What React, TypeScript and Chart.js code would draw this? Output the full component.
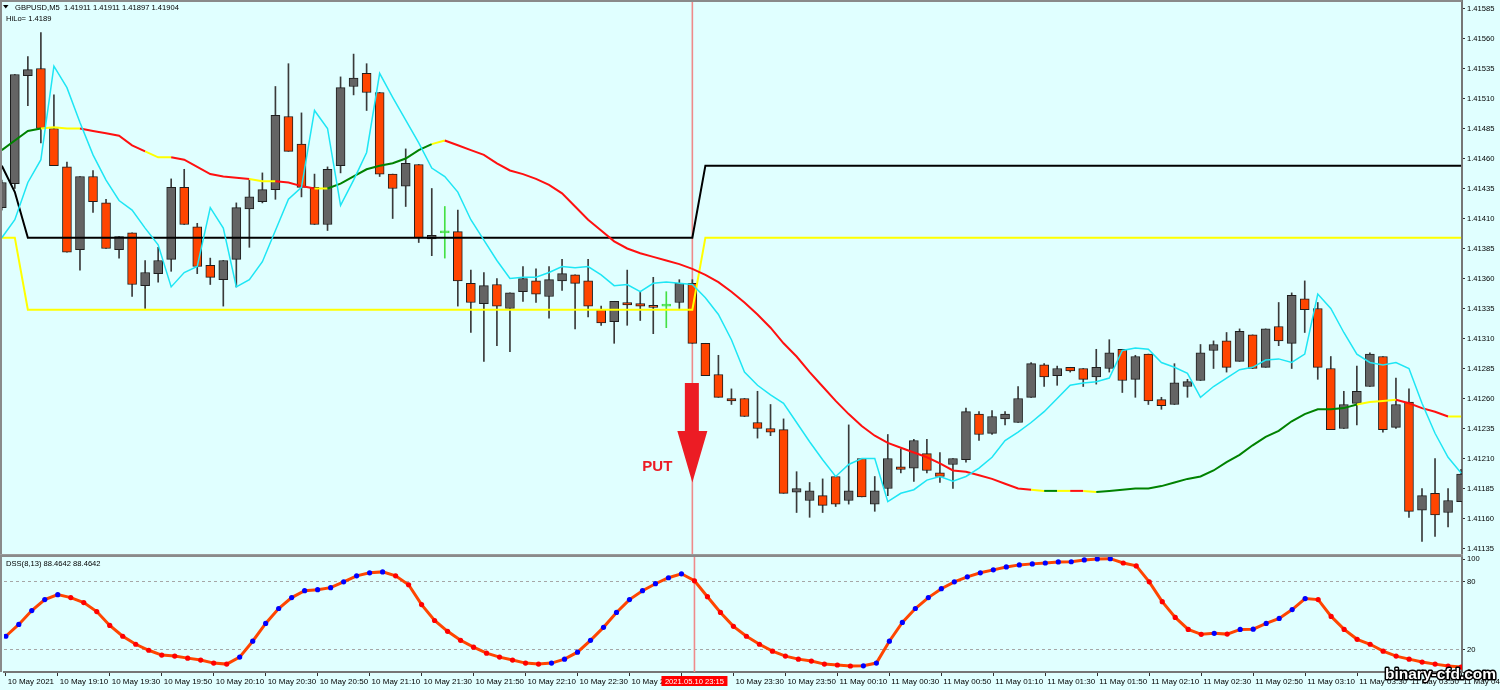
import React, { useEffect, useRef } from 'react';
import { Chart, registerables } from 'chart.js';

Chart.register(...registerables);

// ---------------- data (GBPUSD M5, bar 0 = 10 May 18:50) ----------------
const openPrices = [
  1.41419, 1.41439, 1.41529, 1.41535, 1.41485, 1.41453, 1.41384, 1.41445, 1.41423, 1.41384,
  1.41398, 1.41354, 1.41364, 1.41376, 1.41436, 1.41403, 1.41371, 1.41359, 1.41376, 1.41418,
  1.41424, 1.41434, 1.41495, 1.41472, 1.41436, 1.41405, 1.41454, 1.41520, 1.41531, 1.41515,
  1.41447, 1.41437, 1.41455, 1.41393, 1.41398, 1.41399, 1.41356, 1.41339, 1.41355, 1.41335,
  1.41349, 1.41358, 1.41345, 1.41358, 1.41363, 1.41358, 1.41334, 1.41324, 1.41340, 1.41339,
  1.41337, 1.41337, 1.41340, 1.41356, 1.41306, 1.41280, 1.41260, 1.41260, 1.41240, 1.41235,
  1.41234, 1.41182, 1.41175, 1.41179, 1.41195, 1.41175, 1.41210, 1.41172, 1.41185, 1.41203,
  1.41202, 1.41214, 1.41198, 1.41205, 1.41209, 1.41247, 1.41231, 1.41243, 1.41240, 1.41261,
  1.41288, 1.41279, 1.41286, 1.41285, 1.41278, 1.41285, 1.41301, 1.41276, 1.41297, 1.41259,
  1.41255, 1.41270, 1.41275, 1.41300, 1.41308, 1.41291, 1.41313, 1.41286, 1.41320, 1.41306,
  1.41343, 1.41335, 1.41285, 1.41235, 1.41256, 1.41270, 1.41295, 1.41236, 1.41257, 1.41167,
  1.41181, 1.41165, 1.41174,
];
const highPrices = [
  1.41442, 1.41530, 1.41545, 1.41565, 1.41513, 1.41457, 1.41445, 1.41450, 1.41426, 1.41395,
  1.41398, 1.41375, 1.41386, 1.41443, 1.41451, 1.41406, 1.41377, 1.41375, 1.41423, 1.41442,
  1.41448, 1.41520, 1.41539, 1.41498, 1.41447, 1.41453, 1.41528, 1.41547, 1.41539, 1.41515,
  1.41447, 1.41468, 1.41455, 1.41435, 1.41420, 1.41417, 1.41367, 1.41365, 1.41360, 1.41348,
  1.41370, 1.41368, 1.41370, 1.41376, 1.41363, 1.41376, 1.41337, 1.41341, 1.41367, 1.41349,
  1.41361, 1.41349, 1.41359, 1.41359, 1.41306, 1.41296, 1.41268, 1.41260, 1.41266, 1.41255,
  1.41243, 1.41199, 1.41190, 1.41193, 1.41195, 1.41238, 1.41210, 1.41195, 1.41230, 1.41218,
  1.41226, 1.41226, 1.41215, 1.41210, 1.41252, 1.41249, 1.41250, 1.41249, 1.41270, 1.41290,
  1.41289, 1.41287, 1.41286, 1.41285, 1.41301, 1.41309, 1.41301, 1.41296, 1.41297, 1.41261,
  1.41289, 1.41276, 1.41305, 1.41308, 1.41315, 1.41318, 1.41313, 1.41318, 1.41340, 1.41348,
  1.41358, 1.41340, 1.41295, 1.41266, 1.41287, 1.41298, 1.41295, 1.41277, 1.41268, 1.41185,
  1.41210, 1.41185, 1.41201,
];
const lowPrices = [
  1.41417, 1.41435, 1.41504, 1.41473, 1.41454, 1.41382, 1.41367, 1.41415, 1.41385, 1.41377,
  1.41345, 1.41335, 1.41357, 1.41366, 1.41405, 1.41364, 1.41355, 1.41337, 1.41353, 1.41386,
  1.41423, 1.41426, 1.41466, 1.41428, 1.41405, 1.41400, 1.41448, 1.41513, 1.41500, 1.41445,
  1.41410, 1.41420, 1.41390, 1.41379, 1.41377, 1.41337, 1.41315, 1.41291, 1.41304, 1.41299,
  1.41341, 1.41340, 1.41327, 1.41350, 1.41318, 1.41328, 1.41321, 1.41306, 1.41321, 1.41325,
  1.41314, 1.41319, 1.41335, 1.41306, 1.41279, 1.41261, 1.41255, 1.41245, 1.41227, 1.41229,
  1.41181, 1.41165, 1.41161, 1.41165, 1.41170, 1.41172, 1.41178, 1.41166, 1.41179, 1.41198,
  1.41191, 1.41198, 1.41190, 1.41185, 1.41207, 1.41225, 1.41230, 1.41238, 1.41240, 1.41261,
  1.41270, 1.41271, 1.41282, 1.41270, 1.41272, 1.41282, 1.41265, 1.41261, 1.41255, 1.41251,
  1.41255, 1.41261, 1.41275, 1.41285, 1.41282, 1.41291, 1.41285, 1.41286, 1.41304, 1.41285,
  1.41315, 1.41276, 1.41234, 1.41235, 1.41238, 1.41270, 1.41232, 1.41235, 1.41161, 1.41141,
  1.41145, 1.41153, 1.41174,
];
const closePrices = [
  1.41440, 1.41530, 1.41534, 1.41485, 1.41454, 1.41382, 1.41445, 1.41424, 1.41385, 1.41395,
  1.41355, 1.41365, 1.41375, 1.41436, 1.41405, 1.41370, 1.41361, 1.41375, 1.41419, 1.41428,
  1.41434, 1.41496, 1.41466, 1.41436, 1.41405, 1.41451, 1.41519, 1.41527, 1.41515, 1.41447,
  1.41435, 1.41456, 1.41394, 1.41396, 1.41398, 1.41358, 1.41340, 1.41354, 1.41337, 1.41348,
  1.41360, 1.41347, 1.41359, 1.41364, 1.41356, 1.41337, 1.41323, 1.41341, 1.41338, 1.41337,
  1.41336, 1.41337, 1.41356, 1.41306, 1.41279, 1.41261, 1.41258, 1.41245, 1.41235, 1.41232,
  1.41181, 1.41185, 1.41183, 1.41171, 1.41172, 1.41183, 1.41178, 1.41183, 1.41210, 1.41201,
  1.41225, 1.41200, 1.41195, 1.41210, 1.41249, 1.41230, 1.41245, 1.41247, 1.41260, 1.41289,
  1.41278, 1.41285, 1.41283, 1.41276, 1.41286, 1.41298, 1.41275, 1.41295, 1.41258, 1.41254,
  1.41273, 1.41274, 1.41298, 1.41305, 1.41286, 1.41316, 1.41285, 1.41318, 1.41308, 1.41346,
  1.41334, 1.41286, 1.41234, 1.41255, 1.41266, 1.41297, 1.41234, 1.41255, 1.41166, 1.41179,
  1.41163, 1.41175, 1.41197,
];
// fast (aqua) line
const fastLine = [
  1.41394, 1.41409, 1.41440, 1.41459, 1.41537, 1.41519, 1.41490, 1.41463, 1.41442, 1.41425,
  1.41417, 1.41402, 1.41388, 1.41353, 1.41365, 1.41370, 1.41419, 1.41402, 1.41353, 1.41359,
  1.41374, 1.41400, 1.41426, 1.41436, 1.41500, 1.41485, 1.41421, 1.41442, 1.41465, 1.41531,
  1.41511, 1.41492, 1.41473, 1.41452, 1.41445, 1.41432, 1.41409, 1.41392, 1.41375, 1.41360,
  1.41361, 1.41361, 1.41365, 1.41370, 1.41369, 1.41370, 1.41363, 1.41354, 1.41355, 1.41349,
  1.41356, 1.41357, 1.41356, 1.41355, 1.41344, 1.41330, 1.41309, 1.41282, 1.41271, 1.41263,
  1.41256, 1.41240, 1.41224, 1.41209, 1.41195, 1.41205, 1.41210, 1.41210, 1.41174, 1.41181,
  1.41184, 1.41192, 1.41195, 1.41191, 1.41195, 1.41202, 1.41211, 1.41225, 1.41232, 1.41240,
  1.41249, 1.41260, 1.41271, 1.41273, 1.41274, 1.41277, 1.41300, 1.41302, 1.41301, 1.41290,
  1.41286, 1.41281, 1.41261, 1.41270, 1.41277, 1.41284, 1.41286, 1.41292, 1.41293, 1.41290,
  1.41297, 1.41347, 1.41335, 1.41315, 1.41297, 1.41290, 1.41288, 1.41290, 1.41285, 1.41256,
  1.41231, 1.41211, 1.41198,
];
// slow coloured moving average
const slowMA = [
  1.41467, 1.41475, 1.41483, 1.41485, 1.41486, 1.41485, 1.41485, 1.41483, 1.41481, 1.41479,
  1.41471, 1.41466, 1.41461, 1.41461, 1.41459, 1.41453, 1.41447, 1.41445, 1.41444, 1.41443,
  1.41441, 1.41441, 1.41440, 1.41437, 1.41435, 1.41435, 1.41439, 1.41445, 1.41451, 1.41454,
  1.41456, 1.41460, 1.41467, 1.41472, 1.41475, 1.41471, 1.41467, 1.41463, 1.41456, 1.41450,
  1.41447, 1.41443, 1.41438, 1.41431, 1.41420, 1.41409, 1.41400, 1.41391, 1.41385, 1.41381,
  1.41378, 1.41375, 1.41372, 1.41368, 1.41363, 1.41357, 1.41349, 1.41340, 1.41330, 1.41319,
  1.41306, 1.41295, 1.41282, 1.41270, 1.41258, 1.41247, 1.41237, 1.41229, 1.41223, 1.41219,
  1.41215, 1.41211, 1.41206, 1.41200, 1.41199, 1.41196, 1.41193, 1.41189, 1.41185, 1.41184,
  1.41183, 1.41183, 1.41183, 1.41183, 1.41182, 1.41183, 1.41184, 1.41185, 1.41185, 1.41187,
  1.41190, 1.41193, 1.41195, 1.41200, 1.41207, 1.41213, 1.41221, 1.41228, 1.41233, 1.41241,
  1.41247, 1.41251, 1.41251, 1.41252, 1.41255, 1.41257, 1.41258, 1.41259, 1.41256, 1.41252,
  1.41249, 1.41245, 1.41245,
];
// trend state of each MA segment: g = up, y = flat, r = down
const maTrend = (
  'gggyyyrrrr' + 'ryyrrrrrry' + 'yrrryggggg' + 'gggyrrrrrr' + 'rrrrrrrrrr' +
  'rrrrrrrrrr' + 'rrrrrrrrrr' + 'rrrrrrrrry' + 'gyrygggggg' + 'gggggggggg' +
  'ggggyyyrrr' + 'ryy'
).split('');
// HiLo channel
const hiloUpper = [
  1.41454, 1.41432, 1.41394, 1.41394, 1.41394, 1.41394, 1.41394, 1.41394, 1.41394, 1.41394,
  1.41394, 1.41394, 1.41394, 1.41394, 1.41394, 1.41394, 1.41394, 1.41394, 1.41394, 1.41394,
  1.41394, 1.41394, 1.41394, 1.41394, 1.41394, 1.41394, 1.41394, 1.41394, 1.41394, 1.41394,
  1.41394, 1.41394, 1.41394, 1.41394, 1.41394, 1.41394, 1.41394, 1.41394, 1.41394, 1.41394,
  1.41394, 1.41394, 1.41394, 1.41394, 1.41394, 1.41394, 1.41394, 1.41394, 1.41394, 1.41394,
  1.41394, 1.41394, 1.41394, 1.41394, 1.41454, 1.41454, 1.41454, 1.41454, 1.41454, 1.41454,
  1.41454, 1.41454, 1.41454, 1.41454, 1.41454, 1.41454, 1.41454, 1.41454, 1.41454, 1.41454,
  1.41454, 1.41454, 1.41454, 1.41454, 1.41454, 1.41454, 1.41454, 1.41454, 1.41454, 1.41454,
  1.41454, 1.41454, 1.41454, 1.41454, 1.41454, 1.41454, 1.41454, 1.41454, 1.41454, 1.41454,
  1.41454, 1.41454, 1.41454, 1.41454, 1.41454, 1.41454, 1.41454, 1.41454, 1.41454, 1.41454,
  1.41454, 1.41454, 1.41454, 1.41454, 1.41454, 1.41454, 1.41454, 1.41454, 1.41454, 1.41454,
  1.41454, 1.41454, 1.41454,
];
const hiloLower = [
  1.41394, 1.41394, 1.41334, 1.41334, 1.41334, 1.41334, 1.41334, 1.41334, 1.41334, 1.41334,
  1.41334, 1.41334, 1.41334, 1.41334, 1.41334, 1.41334, 1.41334, 1.41334, 1.41334, 1.41334,
  1.41334, 1.41334, 1.41334, 1.41334, 1.41334, 1.41334, 1.41334, 1.41334, 1.41334, 1.41334,
  1.41334, 1.41334, 1.41334, 1.41334, 1.41334, 1.41334, 1.41334, 1.41334, 1.41334, 1.41334,
  1.41334, 1.41334, 1.41334, 1.41334, 1.41334, 1.41334, 1.41334, 1.41334, 1.41334, 1.41334,
  1.41334, 1.41334, 1.41334, 1.41334, 1.41394, 1.41394, 1.41394, 1.41394, 1.41394, 1.41394,
  1.41394, 1.41394, 1.41394, 1.41394, 1.41394, 1.41394, 1.41394, 1.41394, 1.41394, 1.41394,
  1.41394, 1.41394, 1.41394, 1.41394, 1.41394, 1.41394, 1.41394, 1.41394, 1.41394, 1.41394,
  1.41394, 1.41394, 1.41394, 1.41394, 1.41394, 1.41394, 1.41394, 1.41394, 1.41394, 1.41394,
  1.41394, 1.41394, 1.41394, 1.41394, 1.41394, 1.41394, 1.41394, 1.41394, 1.41394, 1.41394,
  1.41394, 1.41394, 1.41394, 1.41394, 1.41394, 1.41394, 1.41394, 1.41394, 1.41394, 1.41394,
  1.41394, 1.41394, 1.41394,
];
// DSS(8,13) oscillator
const dssValues = [
  31.7, 42.2, 54.5, 64.2, 68.6, 66.0, 61.6, 53.6, 41.3, 31.7,
  24.6, 19.3, 15.0, 14.1, 12.3, 10.6, 7.9, 7.0, 13.2, 27.3,
  43.1, 56.3, 66.0, 72.1, 73.0, 74.8, 80.0, 85.3, 88.0, 88.8,
  85.3, 77.4, 59.8, 45.7, 36.1, 28.1, 22.0, 16.7, 13.2, 10.6,
  7.9, 7.0, 7.9, 11.4, 17.6, 28.1, 39.6, 52.8, 64.2, 72.1,
  78.3, 83.6, 87.1, 80.9, 66.8, 52.8, 40.5, 31.7, 24.6, 18.5,
  14.1, 11.4, 9.7, 7.0, 6.2, 5.3, 5.5, 7.9, 27.3, 44.0,
  56.3, 66.0, 73.9, 80.0, 84.4, 88.0, 90.6, 93.2, 95.0, 95.9,
  96.7, 97.6, 97.8, 99.4, 100.3, 100.5, 96.7, 94.1, 80.0, 62.4,
  48.4, 37.8, 33.4, 34.3, 33.6, 37.8, 38.0, 43.1, 47.5, 55.4,
  65.1, 64.2, 49.3, 37.8, 29.0, 24.6, 18.5, 14.1, 11.4, 8.8,
  7.0, 5.3, 4.4,
];
const priceTickLabels = [
  '1.41135', '1.41160', '1.41185', '1.41210', '1.41235', '1.41260', '1.41285',
  '1.41310', '1.41335', '1.41360', '1.41385', '1.41410', '1.41435', '1.41460',
  '1.41485', '1.41510', '1.41535', '1.41560', '1.41585',
];
const dssTickValues = [0, 20, 80, 100];
const dssLevels = [20, 80];
const timeTickBars = [0, 4, 8, 12, 16, 20, 24, 28, 32, 36, 40, 44, 48, 52, 56, 60, 64, 68, 72, 76, 80, 84, 88, 92, 96, 100, 104, 108, 112];
const timeTickLabels = [
  '10 May 2021', '10 May 19:10', '10 May 19:30', '10 May 19:50', '10 May 20:10', '10 May 20:30',
  '10 May 20:50', '10 May 21:10', '10 May 21:30', '10 May 21:50', '10 May 22:10', '10 May 22:30',
  '10 May 22:50', '', '10 May 23:30', '10 May 23:50', '11 May 00:10', '11 May 00:30',
  '11 May 00:50', '11 May 01:10', '11 May 01:30', '11 May 01:50', '11 May 02:10', '11 May 02:30',
  '11 May 02:50', '11 May 03:10', '11 May 03:30', '11 May 03:50', '11 May 04:10',
];
// signal annotation
const markerBar = 53;
const markerLabel = '2021.05.10 23:15';
const arrowTopPrice = 1.41273;
const arrowNeckPrice = 1.41233;
const arrowTipPrice = 1.4119;
const putLabelPrice = 1.41203;
const headerText = 'GBPUSD,M5  1.41911 1.41911 1.41897 1.41904';
const hiloText = 'HiLo= 1.4189';
const dssText = 'DSS(8,13) 88.4642 88.4642';
const watermark = 'binary-cfd.com';

// ---------------- layout / style ----------------
const W = 1500;
const H = 690;
const MAIN_H = 555;
const SUB_TOP = 545;
const SUB_H = H - SUB_TOP;
const SUB_PAD_TOP = 12;
const AXIS_W = 38;
const XAXIS_H = 18;
const X_MIN = -0.138;
const X_MAX = 112.07;
const PRICE_MIN = 1.4112958;
const PRICE_MAX = 1.4159208;
const BG = '#e0ffff';
const FAMILY = "'Liberation Sans', Arial, sans-serif";
const TXT = '#000000';
const FRAME = '#8a8a8a';
const AXIS_LINE = '#767676';
const BULL = '#646464';
const BEAR = '#ff4500';
const DOJI = '#44e044';
const WICK = '#3a3a3a';
const BODY_EDGE = '#1e1e1e';
const AQUA = '#1ee6f4';
const MA_COL: Record<string, string> = { g: '#008200', y: '#ffff00', r: '#ff1010' };
const MARKER = '#ef8a8a';
const ARROW = '#ec1c24';

function bgPlugin(fromY: number) {
  return {
    id: 'bg' + fromY,
    beforeDraw(chart: any) {
      const { ctx } = chart;
      ctx.save();
      ctx.fillStyle = BG;
      ctx.fillRect(0, fromY, chart.width, chart.height - fromY);
      ctx.restore();
    },
  };
}

function markerLine(chart: any) {
  const { ctx, chartArea } = chart;
  const x = chart.scales.x.getPixelForValue(markerBar);
  ctx.save();
  ctx.strokeStyle = MARKER;
  ctx.lineWidth = 1.6;
  ctx.beginPath();
  ctx.moveTo(x, chartArea.top);
  ctx.lineTo(x, chartArea.bottom);
  ctx.stroke();
  ctx.restore();
}

function buildMain(): any {
  const idx = openPrices.map((_, i) => i);
  const doji = idx.map((i) => openPrices[i] === closePrices[i]);
  const bodyFill = idx.map((i) => (doji[i] ? DOJI : closePrices[i] > openPrices[i] ? BULL : BEAR));
  const bodyEdge = idx.map((i) => (doji[i] ? DOJI : BODY_EDGE));
  const wickFill = idx.map((i) => (doji[i] ? DOJI : WICK));

  const decor = {
    id: 'mainDecor',
    beforeDatasetsDraw(chart: any) {
      markerLine(chart);
    },
    afterDatasetsDraw(chart: any) {
      const { ctx } = chart;
      const xs = chart.scales.x;
      const ys = chart.scales.y;
      const cx = xs.getPixelForValue(markerBar);
      const yTop = ys.getPixelForValue(arrowTopPrice);
      const yNeck = ys.getPixelForValue(arrowNeckPrice);
      const yTip = ys.getPixelForValue(arrowTipPrice);
      ctx.save();
      ctx.fillStyle = ARROW;
      ctx.beginPath();
      ctx.moveTo(cx - 7.5, yTop);
      ctx.lineTo(cx + 6.5, yTop);
      ctx.lineTo(cx + 6.5, yNeck);
      ctx.lineTo(cx + 15, yNeck);
      ctx.lineTo(cx, yTip);
      ctx.lineTo(cx - 15, yNeck);
      ctx.lineTo(cx - 7.5, yNeck);
      ctx.closePath();
      ctx.fill();
      ctx.font = `bold 15px ${FAMILY}`;
      ctx.textAlign = 'right';
      ctx.textBaseline = 'middle';
      ctx.fillText('PUT', cx - 20, ys.getPixelForValue(putLabelPrice));
      ctx.restore();
    },
    afterDraw(chart: any) {
      const { ctx, chartArea } = chart;
      ctx.save();
      ctx.fillStyle = FRAME;
      ctx.fillRect(0, 0, chartArea.right, 2);
      ctx.fillRect(0, 0, 2, chartArea.bottom);
      // header
      ctx.fillStyle = '#000';
      ctx.beginPath();
      ctx.moveTo(3, 5);
      ctx.lineTo(8.5, 5);
      ctx.lineTo(5.75, 8.5);
      ctx.closePath();
      ctx.fill();
      ctx.font = `7.6px ${FAMILY}`;
      ctx.textAlign = 'left';
      ctx.textBaseline = 'middle';
      ctx.fillStyle = TXT;
      ctx.fillText(headerText, 15, 7.5);
      ctx.fillText(hiloText, 6, 19);
      ctx.restore();
    },
  };

  return {
    type: 'bar',
    data: {
      datasets: [
        {
          type: 'line', label: 'fast', order: 0,
          data: idx.map((i) => ({ x: i, y: fastLine[i] })),
          borderColor: AQUA, borderWidth: 1.5, pointRadius: 0, tension: 0,
        },
        {
          type: 'line', label: 'ma', order: 1,
          data: idx.map((i) => ({ x: i, y: slowMA[i] })),
          borderColor: MA_COL.r, borderWidth: 2, pointRadius: 0, tension: 0,
          segment: { borderColor: (c: any) => MA_COL[maTrend[c.p0DataIndex]] || MA_COL.r },
        },
        {
          type: 'line', label: 'hiloUp', order: 2,
          data: idx.map((i) => ({ x: i, y: hiloUpper[i] })),
          borderColor: '#000000', borderWidth: 2, pointRadius: 0, tension: 0,
        },
        {
          type: 'line', label: 'hiloLo', order: 2,
          data: idx.map((i) => ({ x: i, y: hiloLower[i] })),
          borderColor: '#ffff00', borderWidth: 2, pointRadius: 0, tension: 0,
        },
        {
          type: 'bar', label: 'body', order: 4,
          data: idx.map((i) => ({ x: i, y: [openPrices[i], closePrices[i]] })),
          backgroundColor: bodyFill, borderColor: bodyEdge, borderWidth: 1,
          borderSkipped: false, barThickness: 9, minBarLength: 2, grouped: false,
        },
        {
          type: 'bar', label: 'wick', order: 5,
          data: idx.map((i) => ({ x: i, y: [lowPrices[i], highPrices[i]] })),
          backgroundColor: wickFill, borderWidth: 0, barThickness: 1, grouped: false,
        },
      ],
    },
    options: {
      responsive: false,
      animation: false,
      events: [],
      layout: { padding: 0 },
      plugins: { legend: { display: false }, tooltip: { enabled: false }, title: { display: false } },
      scales: {
        x: { type: 'linear', min: X_MIN, max: X_MAX, display: false, offset: false, bounds: 'data', grid: { offset: false } },
        y: {
          type: 'linear', position: 'right', min: PRICE_MIN, max: PRICE_MAX, beginAtZero: false, bounds: 'data',
          afterBuildTicks: (s: any) => { s.ticks = priceTickLabels.map((t) => ({ value: parseFloat(t) })); },
          afterFit: (s: any) => { s.width = AXIS_W; s.paddingTop = 0; s.paddingBottom = 0; },
          ticks: {
            autoSkip: false, padding: 2, color: TXT,
            font: { family: FAMILY, size: 7.6 },
            callback: (_v: any, i: number) => priceTickLabels[i],
          },
          grid: { drawOnChartArea: false, tickLength: 3, tickColor: '#303030', tickWidth: 1 },
          border: { color: AXIS_LINE, width: 2 },
        },
      },
    },
    plugins: [bgPlugin(0), decor],
  };
}

function buildSub(): any {
  const idx = dssValues.map((_, i) => i);
  const dotColors = idx.map((i) => (i === 0 || dssValues[i] > dssValues[i - 1] ? '#0000ff' : '#ff0000'));

  const decor = {
    id: 'subDecor',
    beforeDatasetsDraw(chart: any) {
      markerLine(chart);
    },
    afterDraw(chart: any) {
      const { ctx, chartArea } = chart;
      ctx.save();
      // separator between panels
      ctx.fillStyle = '#9a9a9a';
      ctx.fillRect(0, SUB_PAD_TOP - 3, chartArea.right + 1, 1);
      ctx.fillStyle = FRAME;
      ctx.fillRect(0, SUB_PAD_TOP - 2, chartArea.right + 1, 2);
      ctx.fillRect(0, chartArea.top, 2, chartArea.bottom - chartArea.top);
      // title
      ctx.font = `7.6px ${FAMILY}`;
      ctx.textAlign = 'left';
      ctx.textBaseline = 'middle';
      ctx.fillStyle = TXT;
      ctx.fillText(dssText, 6, chartArea.top + 6.5);
      // date box on time axis
      const x = chart.scales.x.getPixelForValue(markerBar);
      ctx.fillStyle = '#ff0000';
      ctx.fillRect(x - 33, chartArea.bottom + 4, 66, 10);
      ctx.fillStyle = '#ffffff';
      ctx.textAlign = 'center';
      ctx.fillText(markerLabel, x, chartArea.bottom + 9.5);
      // watermark
      ctx.font = `bold 15.5px ${FAMILY}`;
      ctx.textAlign = 'left';
      ctx.lineJoin = 'round';
      ctx.lineWidth = 3;
      ctx.strokeStyle = '#000000';
      ctx.strokeText(watermark, 1385, chartArea.bottom + 3);
      ctx.fillStyle = '#ffffff';
      ctx.fillText(watermark, 1385, chartArea.bottom + 3);
      ctx.restore();
    },
  };

  return {
    type: 'line',
    data: {
      datasets: [
        {
          label: 'dss',
          data: idx.map((i) => ({ x: i, y: dssValues[i] })),
          borderColor: '#ff4500', borderWidth: 3, tension: 0,
          pointRadius: 2.6, pointBackgroundColor: dotColors, pointBorderColor: dotColors, pointBorderWidth: 0,
        },
      ],
    },
    options: {
      responsive: false,
      animation: false,
      events: [],
      layout: { padding: { top: SUB_PAD_TOP, left: 0, right: 0, bottom: 0 } },
      plugins: { legend: { display: false }, tooltip: { enabled: false }, title: { display: false } },
      scales: {
        x: {
          type: 'linear', min: X_MIN, max: X_MAX, offset: false, bounds: 'data', position: 'bottom',
          afterBuildTicks: (s: any) => { s.ticks = timeTickBars.map((v) => ({ value: v })); },
          afterFit: (s: any) => { s.height = XAXIS_H; s.paddingLeft = 0; s.paddingRight = 0; },
          ticks: {
            autoSkip: false, maxRotation: 0, minRotation: 0, align: 'start', labelOffset: 2, padding: 1,
            color: TXT, font: { family: FAMILY, size: 8 },
            callback: (_v: any, i: number) => timeTickLabels[i],
          },
          grid: { drawOnChartArea: false, tickLength: 4, tickColor: '#303030', offset: false },
          border: { color: AXIS_LINE, width: 2 },
        },
        y: {
          type: 'linear', position: 'right', min: 0, max: 102, bounds: 'data',
          afterBuildTicks: (s: any) => { s.ticks = dssTickValues.map((v) => ({ value: v })); },
          afterFit: (s: any) => { s.width = AXIS_W; s.paddingTop = 0; s.paddingBottom = 0; },
          ticks: {
            autoSkip: false, padding: 2, color: TXT, font: { family: FAMILY, size: 7.6 },
            callback: (v: any) => String(v),
          },
          grid: {
            color: (c: any) => (c.tick && dssLevels.includes(c.tick.value) ? '#a6a6a6' : 'rgba(0,0,0,0)'),
            tickLength: 3, tickColor: '#303030', lineWidth: 1,
          },
          border: { color: AXIS_LINE, width: 2, dash: [3, 3] },
        },
      },
    },
    plugins: [bgPlugin(SUB_PAD_TOP - 3), decor],
  };
}

export default function App() {
  const mainRef = useRef<HTMLCanvasElement>(null);
  const subRef = useRef<HTMLCanvasElement>(null);

  useEffect(() => {
    document.body.style.margin = '0';
    document.body.style.background = BG;
    const c1 = new Chart(mainRef.current as HTMLCanvasElement, buildMain());
    const c2 = new Chart(subRef.current as HTMLCanvasElement, buildSub());
    return () => {
      c1.destroy();
      c2.destroy();
    };
  }, []);

  return (
    <div style={{ position: 'fixed', left: 0, top: 0, width: W, height: H, background: BG, overflow: 'hidden' }}>
      <canvas
        ref={mainRef}
        width={W}
        height={MAIN_H}
        style={{ position: 'absolute', left: 0, top: 0, width: W, height: MAIN_H }}
      />
      <canvas
        ref={subRef}
        width={W}
        height={SUB_H}
        style={{ position: 'absolute', left: 0, top: SUB_TOP, width: W, height: SUB_H }}
      />
    </div>
  );
}
